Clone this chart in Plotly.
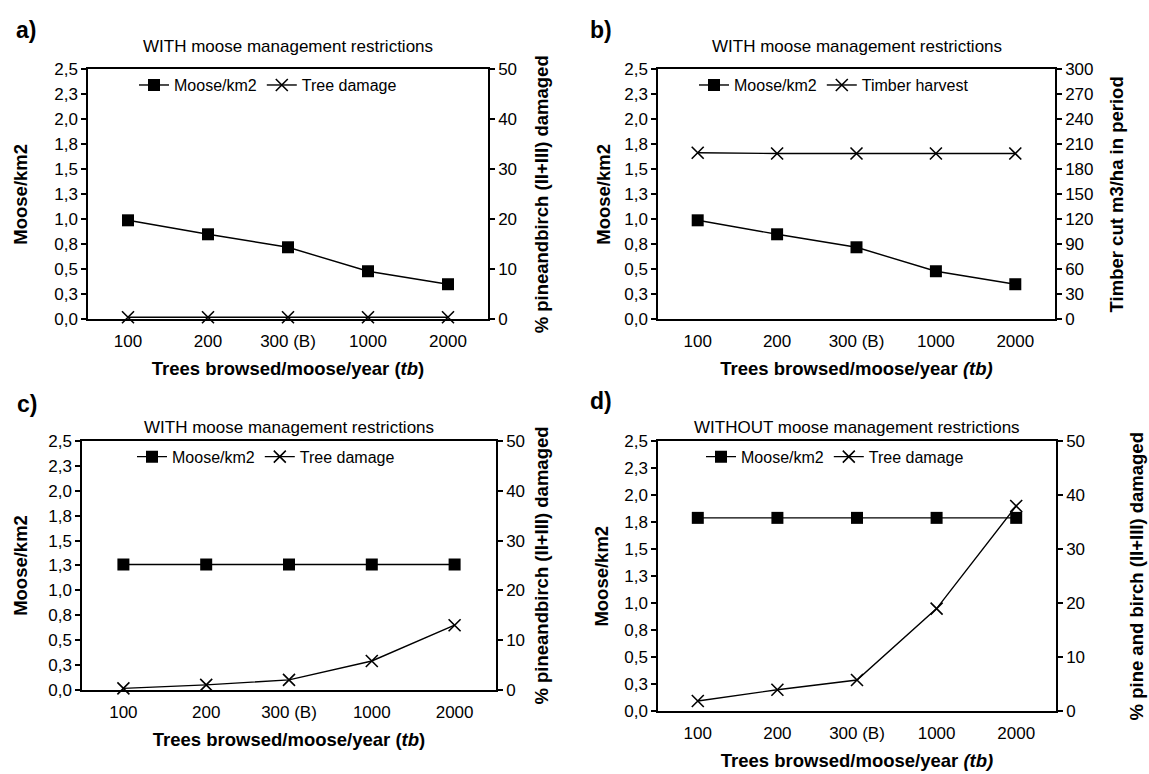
import plotly.graph_objects as go

# Browsing-rate scenarios on the x axis
categories = ["100", "200", "300 (B)", "1000", "2000"]

# a) WITH restrictions: moose density and tree damage
moose_a = [0.99, 0.85, 0.72, 0.48, 0.35]
damage_a = [0.4, 0.4, 0.4, 0.4, 0.4]

# b) WITH restrictions: moose density and timber harvest
moose_b = [0.99, 0.85, 0.72, 0.48, 0.35]
timber_b = [200, 199, 199, 199, 199]

# c) WITH restrictions: moose density and tree damage
moose_c = [1.26, 1.26, 1.26, 1.26, 1.26]
damage_c = [0.3, 1.0, 2.0, 5.8, 13.0]

# d) WITHOUT restrictions: moose density and tree damage
moose_d = [1.79, 1.79, 1.79, 1.79, 1.79]
damage_d = [1.9, 4.0, 5.8, 19.0, 38.0]

left_ticks = [0, 0.25, 0.5, 0.75, 1.0, 1.25, 1.5, 1.75, 2.0, 2.25, 2.5]
left_ticktext = ["0,0", "0,3", "0,5", "0,8", "1,0", "1,3", "1,5", "1,8", "2,0", "2,3", "2,5"]
pct_ticks = [0, 10, 20, 30, 40, 50]
timber_ticks = [0, 30, 60, 90, 120, 150, 180, 210, 240, 270, 300]

W, H = 1149, 774
FONT = "Liberation Sans, Arial, sans-serif"

panels = [
    dict(tag="a)", title="WITH moose management restrictions",
         moose=moose_a, other=damage_a, other_name="Tree damage",
         rticks=pct_ticks, rrange=[0, 50],
         rtitle="% pineandbirch (II+III) damaged",
         xtitle="Trees browsed/moose/year (<i>tb</i>)",
         box=(88, 488, 62, 318), lstand=22, rstand=19,
         leg_dx=46, title_dy=12, tag_dx=74, tag_dy=40),
    dict(tag="b)", title="WITH moose management restrictions",
         moose=moose_b, other=timber_b, other_name="Timber harvest",
         rticks=timber_ticks, rrange=[0, 300],
         rtitle="Timber cut m3/ha in period",
         xtitle="Trees browsed/moose/year <i>(tb)</i>",
         box=(658, 1055, 62, 318), lstand=9, rstand=18,
         leg_dx=36, title_dy=12, tag_dx=70, tag_dy=40),
    dict(tag="c)", title="WITH moose management restrictions",
         moose=moose_c, other=damage_c, other_name="Tree damage",
         rticks=pct_ticks, rrange=[0, 50],
         rtitle="% pineandbirch (II+III) damaged",
         xtitle="Trees browsed/moose/year (<i>tb</i>)",
         box=(82, 496, 443, 698), lstand=16, rstand=11,
         leg_dx=50, title_dy=2, tag_dx=67, tag_dy=38),
    dict(tag="d)", title="WITHOUT moose management restrictions",
         moose=moose_d, other=damage_d, other_name="Tree damage",
         rticks=pct_ticks, rrange=[0, 50],
         rtitle="% pine and birch (II+III) damaged",
         xtitle="Trees browsed/moose/year <i>(tb)</i>",
         box=(658, 1056, 443, 720), lstand=11, rstand=46,
         leg_dx=43, title_dy=2, tag_dx=70, tag_dy=41),
]

fig = go.Figure()
layout = dict(
    width=W, height=H, margin=dict(l=0, r=0, t=0, b=0),
    paper_bgcolor="white", plot_bgcolor="rgba(0,0,0,0)",
    font=dict(family=FONT, size=17, color="black"),
    showlegend=True, annotations=[],
)

xs = list(range(len(categories)))
bounds = [i - 0.5 for i in range(len(categories) + 1)]
LW = 1.5
axis_line = dict(showline=True, linecolor="black", linewidth=LW,
                 showgrid=False, zeroline=False)
title_font = dict(size=18.5, weight="bold")

for i, p in enumerate(panels):
    x0, x1, y0, y1 = p["box"]
    xd = [x0 / W, x1 / W]
    yd = [1 - y1 / H, 1 - y0 / H]
    n = i + 1
    xa, xo, xi = 3 * i + 1, 3 * i + 2, 3 * i + 3
    yl, yli, yr, yri = 4 * i + 1, 4 * i + 2, 4 * i + 3, 4 * i + 4
    xr = [-0.5, len(categories) - 0.5]
    leg = "legend" if n == 1 else f"legend{n}"

    # category labels sit at bin centres; tick marks cross the axis at bin boundaries
    layout[f"xaxis{xa}"] = dict(domain=xd, anchor=f"y{yl}", range=xr, **axis_line,
                                mirror=True, tickmode="array", tickvals=xs,
                                ticktext=categories, ticks="outside", ticklen=6,
                                tickcolor="rgba(0,0,0,0)",
                                title=dict(text=p["xtitle"], standoff=12,
                                           font=title_font))
    for ax, side in ((xo, "outside"), (xi, "inside")):
        layout[f"xaxis{ax}"] = dict(overlaying=f"x{xa}", anchor=f"y{yl}", range=xr,
                                    showgrid=False, zeroline=False, showline=False,
                                    tickmode="array", tickvals=bounds, ticks=side,
                                    ticklen=5, tickwidth=LW, tickcolor="black",
                                    showticklabels=False)

    layout[f"yaxis{yl}"] = dict(domain=yd, anchor=f"x{xa}", range=[0, 2.5], **axis_line,
                                tickmode="array", tickvals=left_ticks,
                                ticktext=left_ticktext, ticks="outside", ticklen=5,
                                tickwidth=LW, tickcolor="black",
                                title=dict(text="Moose/km2", standoff=p["lstand"],
                                           font=title_font))
    layout[f"yaxis{yli}"] = dict(overlaying=f"y{yl}", anchor=f"x{xa}", side="left",
                                 range=[0, 2.5], showgrid=False, zeroline=False,
                                 showline=False, tickmode="array", tickvals=left_ticks,
                                 ticks="inside", ticklen=5, tickwidth=LW,
                                 tickcolor="black", showticklabels=False)
    layout[f"yaxis{yr}"] = dict(overlaying=f"y{yl}", anchor=f"x{xa}", side="right",
                                range=p["rrange"], **axis_line, tickmode="array",
                                tickvals=p["rticks"], ticks="outside", ticklen=5,
                                tickwidth=LW, tickcolor="black",
                                title=dict(text=p["rtitle"], standoff=p["rstand"],
                                           font=title_font))
    layout[f"yaxis{yri}"] = dict(overlaying=f"y{yl}", anchor=f"x{xa}", side="right",
                                 range=p["rrange"], showgrid=False, zeroline=False,
                                 showline=False, tickmode="array", tickvals=p["rticks"],
                                 ticks="inside", ticklen=5, tickwidth=LW,
                                 tickcolor="black", showticklabels=False)

    fig.add_trace(go.Scatter(
        x=xs, y=p["moose"], xaxis=f"x{xa}", yaxis=f"y{yl}", name="Moose/km2",
        mode="lines+markers", line=dict(color="black", width=1.4),
        marker=dict(symbol="square", size=12, color="black"),
        cliponaxis=False, legend=leg))
    fig.add_trace(go.Scatter(
        x=xs, y=p["other"], xaxis=f"x{xa}", yaxis=f"y{yr}", name=p["other_name"],
        mode="lines+markers", line=dict(color="black", width=1.4),
        marker=dict(symbol="x-thin", size=12, color="black",
                    line=dict(color="black", width=1.6)),
        cliponaxis=False, legend=leg))

    layout[leg] = dict(orientation="h", x=(x0 + p["leg_dx"]) / W, y=1 - (y0 + 16) / H,
                       xanchor="left", yanchor="middle", bgcolor="rgba(0,0,0,0)",
                       font=dict(size=16), itemclick=False, itemdoubleclick=False,
                       tracegroupgap=0)

    layout["annotations"].append(dict(
        text=p["title"], xref="paper", yref="paper", x=(x0 + x1) / 2 / W,
        y=1 - (y0 - p["title_dy"]) / H, xanchor="center", yanchor="bottom",
        showarrow=False, font=dict(size=17)))
    layout["annotations"].append(dict(
        text=f"<b>{p['tag']}</b>", xref="paper", yref="paper", x=(x0 - p["tag_dx"]) / W,
        y=1 - (y0 - p["tag_dy"]) / H, xanchor="left", yanchor="middle", showarrow=False,
        font=dict(size=23)))

fig.update_layout(**layout)
fig.write_html("out.html")
